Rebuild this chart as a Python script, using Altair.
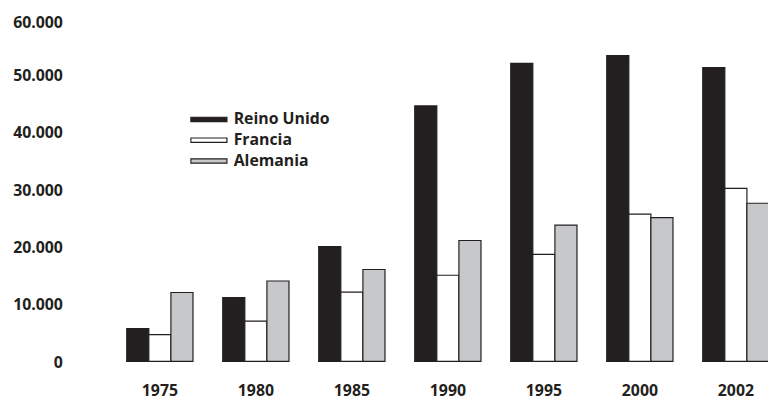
import altair as alt
import pandas as pd

years = ["1975", "1980", "1985", "1990", "1995", "2000", "2002"]
series = ["Reino Unido", "Francia", "Alemania"]
reino_unido = [5700, 11100, 20000, 44500, 51900, 53250, 51200]
francia = [4650, 7000, 12050, 15000, 18650, 25650, 30150]
alemania = [12000, 14000, 16000, 21050, 23750, 25050, 27550]
colors = ["#231f20", "#ffffff", "#c7c8ca"]
y_ticks = [0, 10000, 20000, 30000, 40000, 50000, 60000]

rows = []
for name, vals in zip(series, [reino_unido, francia, alemania]):
    for yr, v in zip(years, vals):
        rows.append({"year": yr, "serie": name, "value": v})
df = pd.DataFrame(rows)

FONT = "Open Sans"
INK = "#231f20"

chart = (
    alt.Chart(df)
    .mark_bar(stroke=INK, strokeWidth=1.2)
    .encode(
        x=alt.X(
            "year:N",
            sort=years,
            title=None,
            scale=alt.Scale(range=[58, 707], paddingInner=0.31, paddingOuter=0),
            axis=alt.Axis(
                domain=False, ticks=False, grid=False, labelAngle=0,
                labelFont=FONT, labelFontSize=16, labelFontWeight="bold",
                labelColor=INK, labelPadding=30, labelBaseline="middle",
            ),
        ),
        xOffset=alt.XOffset("serie:N", sort=series,
                            scale=alt.Scale(paddingInner=0, paddingOuter=0)),
        y=alt.Y(
            "value:Q",
            title=None,
            scale=alt.Scale(domain=[0, 60000], nice=False),
            axis=alt.Axis(
                values=y_ticks, domain=False, ticks=False, grid=False,
                labelFont=FONT, labelFontSize=16, labelFontWeight="bold",
                labelColor=INK, labelPadding=7, labelBaseline="middle",
                labelOffset={"condition": {"test": "datum.value >= 60000", "value": 6},
                             "value": 1},
                labelExpr="replace(format(datum.value, ','), ',', '.')",
            ),
        ),
        fill=alt.Fill(
            "serie:N",
            sort=series,
            scale=alt.Scale(domain=series, range=colors),
            legend=alt.Legend(
                title=None, orient="none", legendX=122, legendY=96,
                symbolType="M-1,-0.12H1V0.12H-1Z", symbolSize=1330,
                symbolStrokeColor=INK, symbolStrokeWidth=1.2,
                labelFont=FONT, labelFontSize=16, labelFontWeight="bold",
                labelColor=INK, labelOffset=6, clipHeight=15, rowPadding=4,
                padding=0,
            ),
        ),
    )
    .properties(
        width=706, height=348,
        background="white",
        autosize=alt.AutoSizeParams(type="none"),
        padding={"left": 62, "top": 7, "right": 0, "bottom": 38},
    )
    .configure_view(stroke=None, strokeWidth=0)
)

chart.save("out.html", embed_options={"renderer": "svg", "actions": False})
